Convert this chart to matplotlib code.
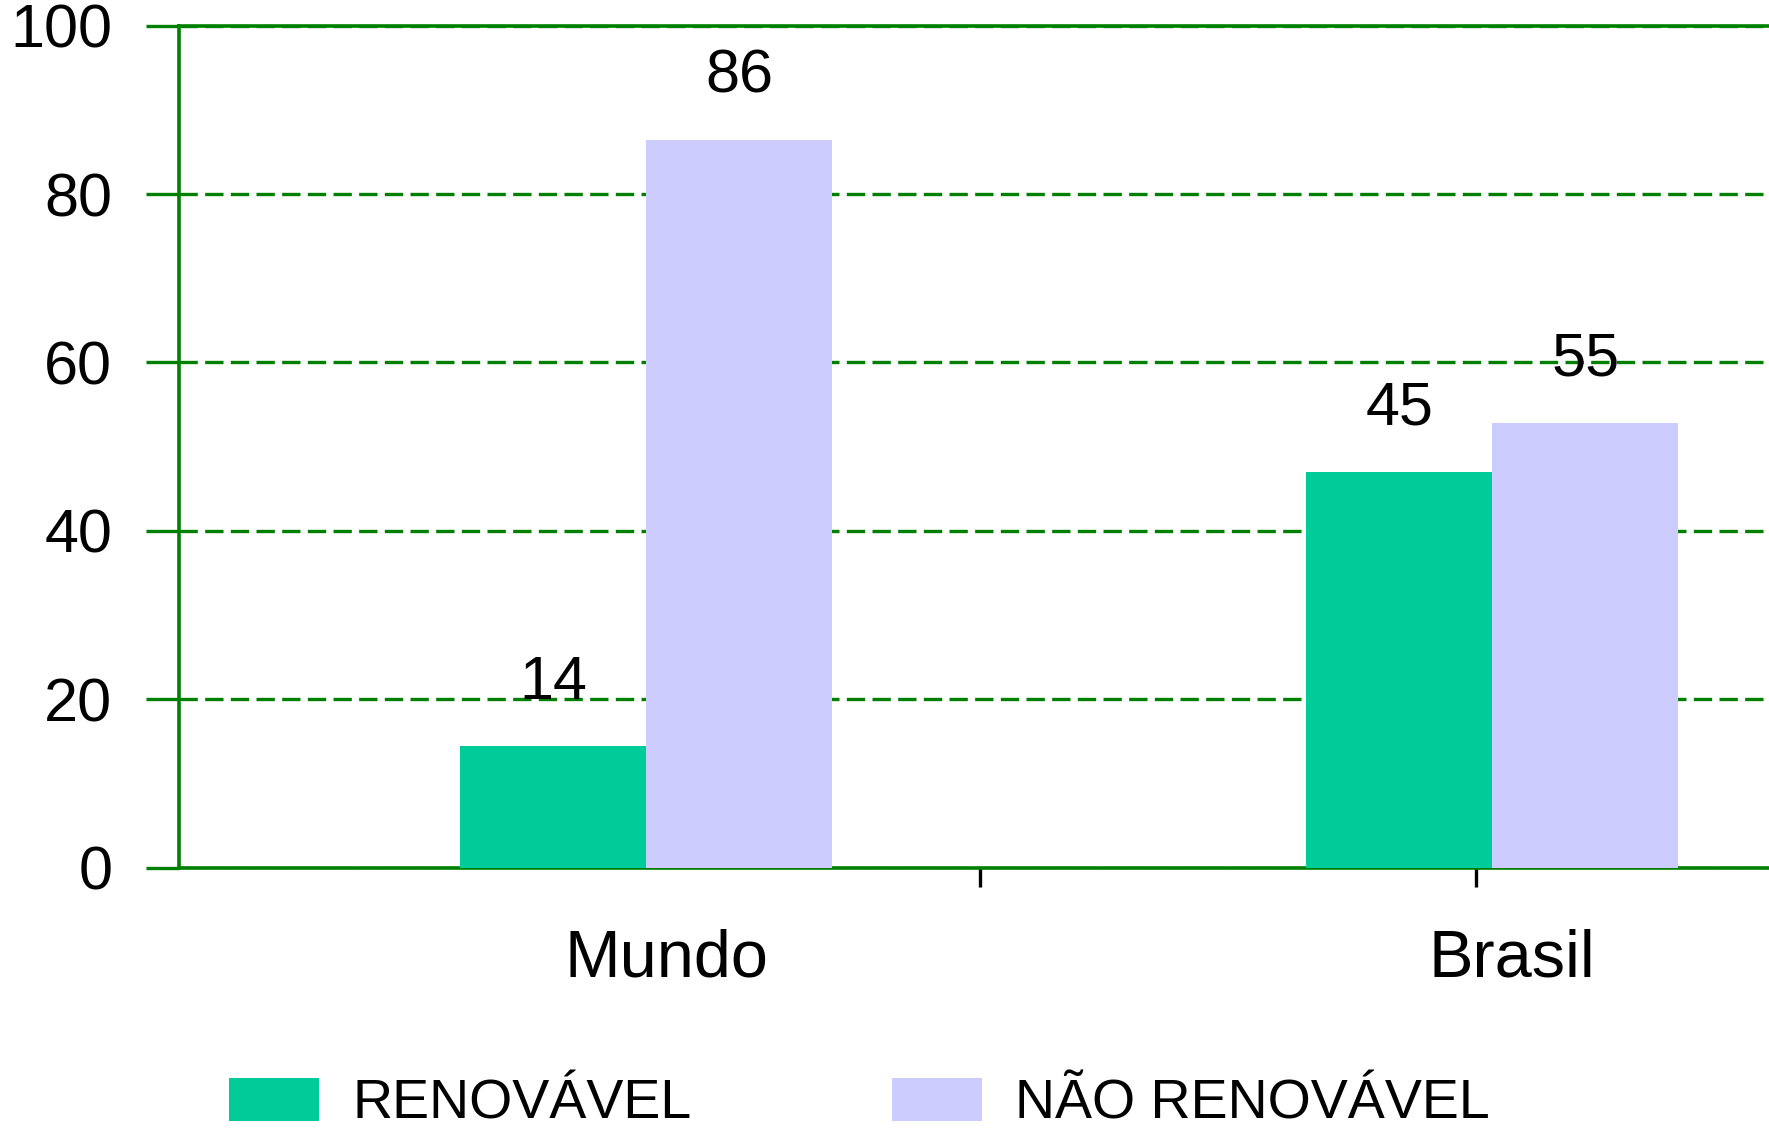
import matplotlib.pyplot as plt
from matplotlib.patches import Patch
import matplotlib.transforms as mtransforms

plt.rcParams["font.family"] = ["Liberation Sans", "DejaVu Sans"]

categories = ["Mundo", "Brasil"]
series_names = ["RENOVÁVEL", "NÃO RENOVÁVEL"]
renovavel = [14.4, 47.0]
nao_renovavel = [86.4, 52.8]
renovavel_labels = ["14", "45"]
nao_renovavel_labels = ["86", "55"]
yticks = [0, 20, 40, 60, 80, 100]

green = "#008000"
c_ren = "#00CC99"
c_nren = "#CCCCFF"

fig = plt.figure(figsize=(17.69, 11.37), dpi=100)
ax = fig.add_axes([0.1012, 0.2369, 0.8988, 0.7405])

x = [0, 1]
w = 0.22
ax.bar([i - w / 2 for i in x], renovavel, w, color=c_ren, zorder=3)
ax.bar([i + w / 2 for i in x], nao_renovavel, w, color=c_nren, zorder=3)

# value labels above the bars
for i, (v, t) in enumerate(zip(renovavel, renovavel_labels)):
    ax.annotate(t, (x[i] - w / 2, v), xytext=(0, 25), textcoords="offset points",
                ha="center", va="bottom", fontsize=44)
for i, (v, t) in enumerate(zip(nao_renovavel, nao_renovavel_labels)):
    ax.annotate(t, (x[i] + w / 2, v), xytext=(0, 25), textcoords="offset points",
                ha="center", va="bottom", fontsize=44)

ax.set_xlim(-0.552, 1.327)
ax.set_ylim(0, 100)
ax.set_yticks(yticks)
ax.set_yticklabels([str(v) for v in yticks], fontsize=44)
ax.tick_params(axis="y", length=24, width=2.4, color=green, pad=24)

ax.set_xticks(x)
ax.set_xticklabels(categories, fontsize=48)
ax.tick_params(axis="x", which="major", length=0, pad=44)
offset = mtransforms.ScaledTranslation(20 / 100, 0, fig.dpi_scale_trans)
for lab in ax.get_xticklabels():
    lab.set_transform(lab.get_transform() + offset)
ax.set_xticks([0.394, 0.981], minor=True)
ax.tick_params(axis="x", which="minor", length=14, width=2.4, color="black")

ax.grid(axis="y", color=green, linewidth=2.4, linestyle=(0, (5.5, 2.2)), zorder=1)
for s in ["left", "top", "bottom"]:
    ax.spines[s].set_color(green)
    ax.spines[s].set_linewidth(2.6)
ax.spines["right"].set_visible(False)

handles = [Patch(facecolor=c_ren), Patch(facecolor=c_nren)]
fig.legend(handles, series_names, loc="upper left", bbox_to_anchor=(0.1295, 0.052),
           ncol=2, frameon=False, fontsize=40, borderpad=0, borderaxespad=0,
           handlelength=1.62, handleheight=0.81, handletextpad=0.6,
           columnspacing=3.6)

fig.savefig("out.png", dpi=100, facecolor="white")
